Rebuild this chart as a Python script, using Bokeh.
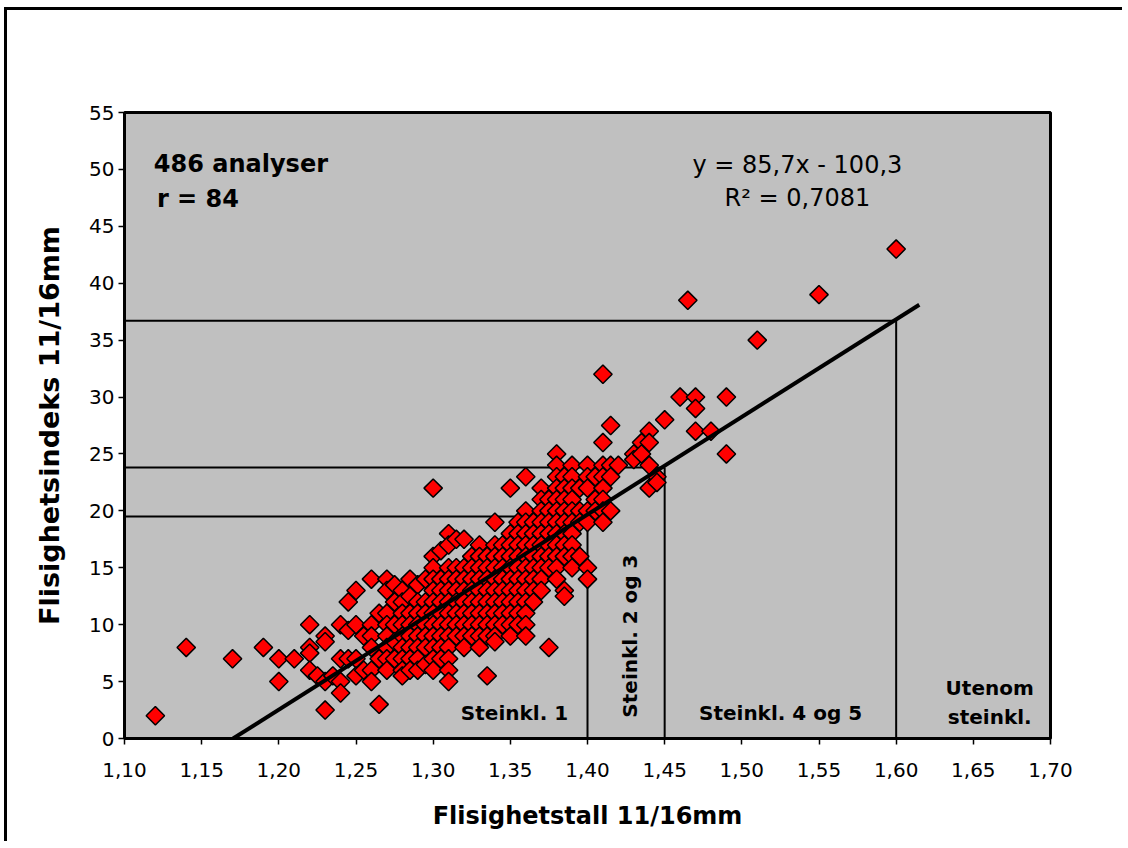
import math
from bokeh.plotting import figure
from bokeh.models import Range1d, Label, FixedTicker, CustomJSTickFormatter
from bokeh.embed import file_html
from bokeh.resources import INLINE

# ---------------- data ----------------
flisighetstall = [
    1.12, 1.14, 1.17, 1.19,
    1.20, 1.20, 1.21,
    1.22, 1.22, 1.22, 1.22, 1.225,
    1.23, 1.23, 1.23, 1.23, 1.235,
    1.24, 1.24, 1.24, 1.24,
    1.245, 1.245, 1.245,
    1.25, 1.25, 1.25, 1.25, 1.255, 1.255,
    1.26, 1.26, 1.26, 1.26, 1.26, 1.26,
    1.265, 1.265, 1.265,
    1.27, 1.27, 1.27, 1.27, 1.27, 1.27, 1.27, 1.27,
    1.275, 1.275, 1.275, 1.275, 1.275,
    1.28, 1.28, 1.28, 1.28, 1.28, 1.28, 1.28, 1.28, 1.28,
    1.285, 1.285, 1.285, 1.285, 1.285, 1.285, 1.285, 1.285,
    1.29, 1.29, 1.29, 1.29, 1.29, 1.29, 1.29, 1.29,
    1.295, 1.295, 1.295, 1.295, 1.295, 1.295, 1.295,
    1.30, 1.30, 1.30, 1.30, 1.30, 1.30, 1.30, 1.30, 1.30, 1.30, 1.30, 1.30,
    1.305, 1.305, 1.305, 1.305, 1.305, 1.305, 1.305, 1.305, 1.305,
    1.31, 1.31, 1.31, 1.31, 1.31, 1.31, 1.31, 1.31, 1.31, 1.31, 1.31, 1.31, 1.31,
    1.315, 1.315, 1.315, 1.315, 1.315, 1.315, 1.315, 1.315,
    1.32, 1.32, 1.32, 1.32, 1.32, 1.32, 1.32, 1.32, 1.32,
    1.325, 1.325, 1.325, 1.325, 1.325, 1.325, 1.325, 1.325,
    1.33, 1.33, 1.33, 1.33, 1.33, 1.33, 1.33, 1.33, 1.33, 1.33,
    1.335, 1.335, 1.335, 1.335, 1.335, 1.335, 1.335, 1.335, 1.335,
    1.34, 1.34, 1.34, 1.34, 1.34, 1.34, 1.34, 1.34, 1.34, 1.34, 1.34,
    1.345, 1.345, 1.345, 1.345, 1.345, 1.345, 1.345, 1.345,
    1.35, 1.35, 1.35, 1.35, 1.35, 1.35, 1.35, 1.35, 1.35, 1.35, 1.35,
    1.355, 1.355, 1.355, 1.355, 1.355, 1.355, 1.355, 1.355, 1.355, 1.355,
    1.36, 1.36, 1.36, 1.36, 1.36, 1.36, 1.36, 1.36, 1.36, 1.36, 1.36, 1.36, 1.36,
    1.365, 1.365, 1.365, 1.365, 1.365, 1.365, 1.365, 1.365,
    1.37, 1.37, 1.37, 1.37, 1.37, 1.37, 1.37, 1.37, 1.37, 1.37,
    1.375, 1.375, 1.375, 1.375, 1.375, 1.375, 1.375, 1.375,
    1.38, 1.38, 1.38, 1.38, 1.38, 1.38, 1.38, 1.38, 1.38, 1.38, 1.38, 1.38,
    1.385, 1.385, 1.385, 1.385, 1.385, 1.385, 1.385, 1.385, 1.385, 1.385,
    1.39, 1.39, 1.39, 1.39, 1.39, 1.39, 1.39, 1.39, 1.39, 1.39,
    1.395, 1.395, 1.395, 1.395,
    1.40, 1.40, 1.40, 1.40, 1.40, 1.40, 1.40,
    1.405, 1.405, 1.405,
    1.41, 1.41, 1.41, 1.41, 1.41, 1.41, 1.41, 1.41,
    1.415, 1.415, 1.415, 1.415,
    1.42, 1.43, 1.43, 1.435, 1.435,
    1.44, 1.44, 1.44, 1.44, 1.445, 1.445,
    1.45, 1.46, 1.465, 1.47, 1.47, 1.47, 1.48, 1.49, 1.49,
    1.51, 1.55, 1.60,
]
flisighetsindeks = [
    2, 8, 7, 8,
    7, 5, 7,
    10, 8, 7.5, 6, 5.5,
    9, 8.5, 5, 2.5, 5.5,
    10, 7, 5, 4,
    12, 9.5, 7,
    13, 10, 7, 5.5, 6, 9,
    14, 10, 9, 8, 6, 5,
    11, 7, 3,
    14, 13, 11, 10, 9, 8, 7, 6,
    13.5, 12, 10, 8.5, 7,
    13, 12, 11, 10, 9, 8, 7, 6, 5.5,
    14, 12.5, 11, 10, 9, 8, 7, 6,
    13.5, 12, 11, 10, 9, 8, 7, 6,
    14, 12, 11, 10, 9, 8, 6.5,
    22, 16, 15, 14, 13, 12, 11, 10, 9, 8, 7, 6,
    16.5, 14, 13, 12, 11, 10, 9, 8, 7,
    18, 17, 15, 14, 13, 12, 11, 10, 9, 8, 7, 6, 5,
    17.5, 15, 14, 13, 12, 11, 10, 9,
    17.5, 15, 14, 13, 12, 11, 10, 9, 8,
    16, 15, 14, 13, 12, 11, 10, 9,
    17, 16, 15, 14, 13, 12, 11, 10, 9, 8,
    16, 15, 14, 13, 12, 11, 10, 9, 5.5,
    19, 17, 16, 15, 14, 13, 12, 11, 10, 9, 8.5,
    17, 16, 15, 14, 13, 12, 11, 10,
    22, 18, 17, 16, 15, 14, 13, 12, 11, 10, 9,
    19, 18, 17, 16, 15, 14, 13, 12, 11, 10,
    23, 20, 19, 18, 17, 16, 15, 14, 13, 12, 11, 10, 9,
    19, 18, 17, 16, 15, 14, 13, 12,
    22, 21, 20, 19, 18, 17, 16, 15, 14, 13,
    21, 20, 19, 18, 17, 16, 15, 8,
    25, 24, 23, 22, 21, 20, 19, 18, 17, 16, 15, 14,
    23, 22, 21, 20, 19, 18, 17, 16, 13, 12.5,
    24, 23, 22, 21, 20, 19, 18, 17, 16, 15,
    22, 20, 19, 16,
    24, 23, 22, 20, 19, 15, 14,
    23, 21, 20,
    32, 26, 24, 23, 22, 21, 20, 19,
    27.5, 24, 23, 20,
    24, 25, 24.5, 26, 25,
    27, 26, 24, 22, 23, 22.5,
    28, 30, 38.5, 30, 29, 27, 27, 30, 25,
    35, 39, 43,
]

# regression line y = 85.7x - 100.3
trend_slope = 85.7
trend_intercept = -100.3
trend_x_end = 1.615

# class limits (Steinklasse)
class_limit_x = [1.40, 1.45, 1.60]
class_limit_y = [19.5, 23.8, 36.7]

x_ticks = [1.10, 1.15, 1.20, 1.25, 1.30, 1.35, 1.40, 1.45, 1.50, 1.55, 1.60, 1.65, 1.70]
y_ticks = [0, 5, 10, 15, 20, 25, 30, 35, 40, 45, 50, 55]

# ---------------- figure ----------------
p = figure(width=1118, height=834, output_backend="svg", toolbar_location=None,
           x_range=Range1d(x_ticks[0], x_ticks[-1]), y_range=Range1d(y_ticks[0], y_ticks[-1]),
           min_border_left=117, min_border_top=102, min_border_right=75, min_border_bottom=106)
p.styles = {"border-left": "3px solid black", "border-top": "3px solid black",
            "margin-left": "4px", "margin-top": "7px"}
p.background_fill_color = "#C0C0C0"
p.border_fill_color = "white"
p.outline_line_color = "black"
p.outline_line_width = 3
p.xgrid.visible = False
p.ygrid.visible = False

FONT = "DejaVu Sans"
for ax in (p.xaxis[0], p.yaxis[0]):
    ax.axis_line_width = 3
    ax.axis_line_color = "black"
    ax.major_tick_in = 0
    ax.major_tick_out = 6
    ax.major_tick_line_width = 1.5
    ax.minor_tick_line_color = None
    ax.major_label_text_font = FONT
    ax.major_label_text_font_size = "20px"
    ax.major_label_text_color = "black"
    ax.axis_label_text_font = FONT
    ax.axis_label_text_font_style = "bold"
    ax.axis_label_text_color = "black"

p.xaxis.ticker = FixedTicker(ticks=x_ticks)
p.yaxis.ticker = FixedTicker(ticks=y_ticks)
p.xaxis.formatter = CustomJSTickFormatter(code="return tick.toFixed(2).replace('.', ',');")
p.xaxis.axis_label = "Flisighetstall 11/16mm"
p.yaxis.axis_label = "Flisighetsindeks 11/16mm"
p.xaxis.axis_label_text_font_size = "24px"
p.yaxis.axis_label_text_font_size = "27px"
p.xaxis.major_label_standoff = 18
p.yaxis.major_label_standoff = 4
p.xaxis.axis_label_standoff = 22
p.yaxis.axis_label_standoff = 21

# class limit lines
for xl, yl in zip(class_limit_x, class_limit_y):
    p.line([x_ticks[0], xl], [yl, yl], line_color="black", line_width=2)
    p.line([xl, xl], [y_ticks[0], yl], line_color="black", line_width=2)

# scatter
p.scatter(flisighetstall, flisighetsindeks, marker="square", angle=math.pi / 4, size=13,
          fill_color="#FF0000", line_color="black", line_width=1.5)

# trend line
x0 = -trend_intercept / trend_slope
p.line([x0, trend_x_end],
       [trend_slope * x0 + trend_intercept, trend_slope * trend_x_end + trend_intercept],
       line_color="black", line_width=4)

def lab(x, y, text, size, bold=True, align="center", angle=0.0):
    p.add_layout(Label(x=x, y=y, text=text, text_font=FONT, text_font_size=size,
                       text_font_style="bold" if bold else "normal", text_color="black",
                       text_align=align, text_baseline="middle", angle=angle))

lab(1.119, 50.5, "486 analyser", "24px", align="left")
lab(1.121, 47.4, "r = 84", "24px", align="left")
lab(1.536, 50.4, "y = 85,7x - 100,3", "24px", bold=False)
lab(1.536, 47.5, "R² = 0,7081", "24px", bold=False)
lab(1.3527, 2.2, "Steinkl. 1", "20px")
lab(1.4273, 9.0, "Steinkl. 2 og 3", "20px", angle=math.pi / 2)
lab(1.5251, 2.2, "Steinkl. 4 og 5", "20px")
lab(1.6606, 4.4, "Utenom", "20px")
lab(1.6606, 1.9, "steinkl.", "20px")

open("out.html", "w").write(file_html(p, INLINE))
